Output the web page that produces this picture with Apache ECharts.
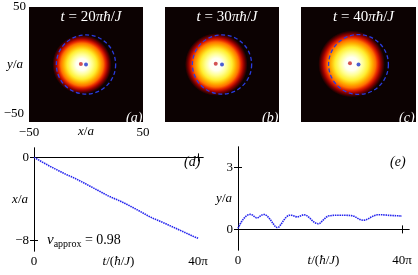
<!DOCTYPE html>
<html><head><meta charset="utf-8">
<script src="https://cdn.jsdelivr.net/npm/echarts@6/dist/echarts.min.js"></script>
<style>html,body{margin:0;padding:0;background:#fff}#c{width:418px;height:275px}</style>
</head><body><div id="c"></div>
<script>
// ---- data ----
const panelTimes = ['20', '30', '40'];          // t = N π ħ/J
const panelLetters = ['a', 'b', 'c'];
const blobX = [-3.5, -5.0, -6.0];               // cloud centre x/a
const blobY = [0.0, 0.0, 0.5];                  // cloud centre y/a
const blobR = [26, 27.5, 29];                   // visible cloud radius (a)
const comX = [-4.5, -5.5, -7.4];                // red dot (centre of mass)
const comY = [0.4, 0.6, 1.0];
const originX = [0, 0, 0];                      // blue dot
const originY = [0, 0, 0];
const ringR = [26, 26, 26];                     // dashed circle radius
const heatStops = [                             // radial colour profile (fraction of radius, colour)
  [0.00, '#ffffff'], [0.20, '#fffff0'], [0.35, '#ffff90'], [0.50, '#ffee30'],
  [0.62, '#ffb000'], [0.72, '#ff7000'], [0.80, '#e02000'], [0.88, '#900000'],
  [0.95, '#400000'], [1.00, '#0c0202']
];
const topTicks = [-50, 50];

// panel (d): x/a vs t (t in units of pi)
const tD = [0,1,2,3,4,5,6,7,8,9,10,11,12,13,14,15,16,17,18,19,20,21,22,23,24,25,26,27,28,29,30,31,32,33,34,35,36,37,38,39,40];
const xD = [0.00,-0.22,-0.45,-0.66,-0.88,-1.08,-1.28,-1.48,-1.68,-1.84,-2.02,-2.22,-2.42,-2.63,-2.84,-3.05,-3.26,-3.47,-3.68,-3.86,
            -4.03,-4.20,-4.39,-4.59,-4.80,-5.01,-5.22,-5.44,-5.66,-5.85,-6.02,-6.19,-6.36,-6.54,-6.72,-6.90,-7.08,-7.26,-7.44,-7.62,-7.78];
const dTicksY = [-8, 0];
// panel (e): y/a vs t
const tE = [0,0.5,1,1.5,2,2.5,3,3.5,4,4.5,5,5.5,6,6.5,7,7.5,8,8.5,9,9.5,10,10.5,11,11.5,12,12.5,13,13.5,14,14.5,15,15.5,16,16.5,17,17.5,18,18.5,19,19.5,20,20.5,21,21.5,22,23,24,25,26,27,28,28.5,29,29.5,30,30.5,31,31.5,32,32.5,33,33.5,34,35,36,37,38,39,40];
const yE = [0.05,0.25,0.42,0.55,0.65,0.71,0.73,0.70,0.62,0.56,0.58,0.66,0.72,0.72,0.67,0.57,0.44,0.30,0.16,0.09,0.12,0.25,0.40,0.54,0.64,0.69,0.69,0.66,0.62,0.60,0.63,0.68,0.71,0.70,0.64,0.55,0.45,0.36,0.30,0.27,0.30,0.40,0.50,0.59,0.65,0.68,0.69,0.69,0.69,0.68,0.66,0.62,0.56,0.50,0.46,0.44,0.45,0.49,0.54,0.60,0.65,0.69,0.71,0.71,0.70,0.68,0.67,0.66,0.65];
const eTicksY = [0, 3];
const tTicks = [0, 40];

// ---- styles ----
const SERIF = 'Liberation Serif';
const FS = 13;
const it = {fontStyle: 'italic', fontFamily: SERIF, fontSize: FS, color: '#000'};
const lineColor = '#2323ee';

const grids = [
  {left: 29, top: 7, width: 114, height: 115},
  {left: 165, top: 7, width: 114, height: 115},
  {left: 301, top: 7, width: 115, height: 115},
  {left: 34, top: 148, width: 169, height: 103},
  {left: 238, top: 147, width: 171, height: 103}
].map(g => Object.assign({show: true, borderWidth: 0, backgroundColor: 'transparent',
  containLabel: false, outerBoundsMode: 'none'}, g));
for (let i = 0; i < 3; i++) grids[i].backgroundColor = '#0c0202';

const xAxes = [], yAxes = [], series = [], titles = [];
const lbl = {fontFamily: SERIF, fontSize: FS, color: '#000'};

for (let i = 0; i < 3; i++) {
  const first = i === 0;
  xAxes.push({type: 'value', gridIndex: i, min: -50, max: 50,
    axisLine: {show: false}, axisTick: {show: false}, splitLine: {show: false},
    axisLabel: {show: first, customValues: topTicks, margin: 4, ...lbl,
      formatter: v => v < 0 ? '−50' : '50'},
    name: first ? '{i|x}/{i|a}' : '', nameLocation: 'middle', nameGap: 3, nameMoveOverlap: false,
    nameTextStyle: {...lbl, rich: {i: it}}});
  yAxes.push({type: 'value', gridIndex: i, min: -50, max: 50,
    axisLine: {show: false}, axisTick: {show: false}, splitLine: {show: false},
    axisLabel: {show: first, customValues: topTicks, margin: 3, ...lbl,
      formatter: v => v < 0 ? '{n|−50}' : '50',
      rich: {n: {...lbl, padding: [0, 2, 16, 0]}}},
    name: first ? '{i|y}/{i|a}' : '', nameLocation: 'middle', nameGap: 6, nameRotate: 0, nameMoveOverlap: false,
    nameTextStyle: {...lbl, rich: {i: it}}});
  series.push({type: 'custom', xAxisIndex: i, yAxisIndex: i, z: 1,
    data: [[blobX[i], blobY[i], blobR[i]]],
    renderItem: (p, api) => {
      const c = api.coord([api.value(0), api.value(1)]);
      const r = api.size([api.value(2), 0])[0];
      return {type: 'circle', shape: {cx: c[0], cy: c[1], r: r},
        style: {fill: new echarts.graphic.RadialGradient(0.5, 0.5, 0.5,
          heatStops.map(s => ({offset: s[0], color: s[1]})))}};
    }});
  series.push({type: 'custom', xAxisIndex: i, yAxisIndex: i, z: 3,
    data: [[originX[i], originY[i], ringR[i]]],
    renderItem: (p, api) => {
      const c = api.coord([api.value(0), api.value(1)]);
      const r = api.size([api.value(2), 0])[0];
      return {type: 'circle', shape: {cx: c[0], cy: c[1], r: r},
        style: {fill: 'none', stroke: '#2a3ce0', lineWidth: 1.3, lineDash: [4, 2.6]}};
    }});
  series.push({type: 'scatter', xAxisIndex: i, yAxisIndex: i, z: 4, symbolSize: 4,
    itemStyle: {color: '#c82828'}, data: [[comX[i], comY[i]]]});
  series.push({type: 'scatter', xAxisIndex: i, yAxisIndex: i, z: 4, symbolSize: 4,
    itemStyle: {color: '#1d36cc'}, data: [[originX[i], originY[i]]]});
  const g = grids[i];
  titles.push({text: '{i|t} = ' + panelTimes[i] + '{i|πħ}/{i|J}', left: g.left + g.width / 2, top: 5,
    textAlign: 'center',
    textStyle: {fontFamily: SERIF, fontSize: 15, fontWeight: 'normal', color: '#fff',
      rich: {i: {fontStyle: 'italic', fontFamily: SERIF, fontSize: 15, color: '#fff'}}}});
  titles.push({text: '(' + panelLetters[i] + ')', left: g.left + g.width - 22, top: 106,
    textStyle: {fontFamily: SERIF, fontSize: 14, fontStyle: 'italic', fontWeight: 'normal', color: '#fff'}});
}

function framedAxes(gi, xmax, ymin, ymax, yTicks, yName) {
  const line = {show: true, lineStyle: {color: '#000', width: 1}};
  const tick = {show: true, inside: true, length: 4, lineStyle: {color: '#000', width: 1}};
  xAxes.push({type: 'value', gridIndex: gi, min: 0, max: xmax, position: 'bottom',
    axisLine: line, axisTick: {...tick, customValues: tTicks}, splitLine: {show: false},
    axisLabel: {customValues: tTicks, margin: 4, ...lbl, formatter: v => v === 0 ? '0' : '40π'},
    name: '{i|t}/({i|ħ}/{i|J})', nameLocation: 'middle', nameGap: 4, nameMoveOverlap: false,
    nameTextStyle: {...lbl, rich: {i: it}}});
  xAxes.push({type: 'value', gridIndex: gi, min: 0, max: xmax, position: 'top',
    axisLine: line, axisTick: {...tick, customValues: tTicks}, splitLine: {show: false},
    axisLabel: {show: false}});
  yAxes.push({type: 'value', gridIndex: gi, min: ymin, max: ymax, position: 'left',
    axisLine: line, axisTick: {...tick, customValues: yTicks}, splitLine: {show: false},
    axisLabel: {customValues: yTicks, margin: 5, ...lbl, formatter: v => v < 0 ? '−' + (-v) : String(v)},
    name: yName, nameLocation: 'middle', nameGap: 6, nameRotate: 0, nameMoveOverlap: false,
    nameTextStyle: {...lbl, rich: {i: it}}});
  yAxes.push({type: 'value', gridIndex: gi, min: ymin, max: ymax, position: 'right',
    axisLine: line, axisTick: {...tick, customValues: yTicks}, splitLine: {show: false},
    axisLabel: {show: false}});
}
framedAxes(3, 41.2, -9, 0.9, dTicksY, '{i|x}/{i|a}');
framedAxes(4, 41.7, -1, 4, eTicksY, '{i|y}/{i|a}');

series.push({type: 'line', xAxisIndex: 3, yAxisIndex: 3, showSymbol: false, symbol: 'none',
  lineStyle: {color: lineColor, width: 1.6, type: [1.5, 0.8]},
  data: tD.map((t, k) => [t, xD[k]])});
series.push({type: 'line', xAxisIndex: 5, yAxisIndex: 5, showSymbol: false, symbol: 'none',
  lineStyle: {color: lineColor, width: 1.6, type: [1.5, 0.8]},
  data: tE.map((t, k) => [t, yE[k]])});

titles.push({text: '(d)', left: 179, top: 150,
  textStyle: {fontFamily: SERIF, fontSize: 14, fontStyle: 'italic', fontWeight: 'normal', color: '#000'}});
titles.push({text: '(e)', left: 385, top: 150,
  textStyle: {fontFamily: SERIF, fontSize: 14, fontStyle: 'italic', fontWeight: 'normal', color: '#000'}});
titles.push({text: '{i|ν}{s|approx} = 0.98', left: 42, top: 226,
  textStyle: {fontFamily: SERIF, fontSize: 14, fontWeight: 'normal', color: '#000', lineHeight: 18,
    rich: {i: {fontStyle: 'italic', fontFamily: SERIF, fontSize: 15, color: '#000', lineHeight: 18},
           s: {fontFamily: SERIF, fontSize: 10, color: '#000', lineHeight: 16, verticalAlign: 'bottom'}}}});

const chart = echarts.init(document.getElementById('c'), null, {renderer: 'canvas'});
chart.setOption({
  animation: false,
  backgroundColor: '#fff',
  title: titles,
  grid: grids,
  xAxis: xAxes,
  yAxis: yAxes,
  series: series
});
</script></body></html>
